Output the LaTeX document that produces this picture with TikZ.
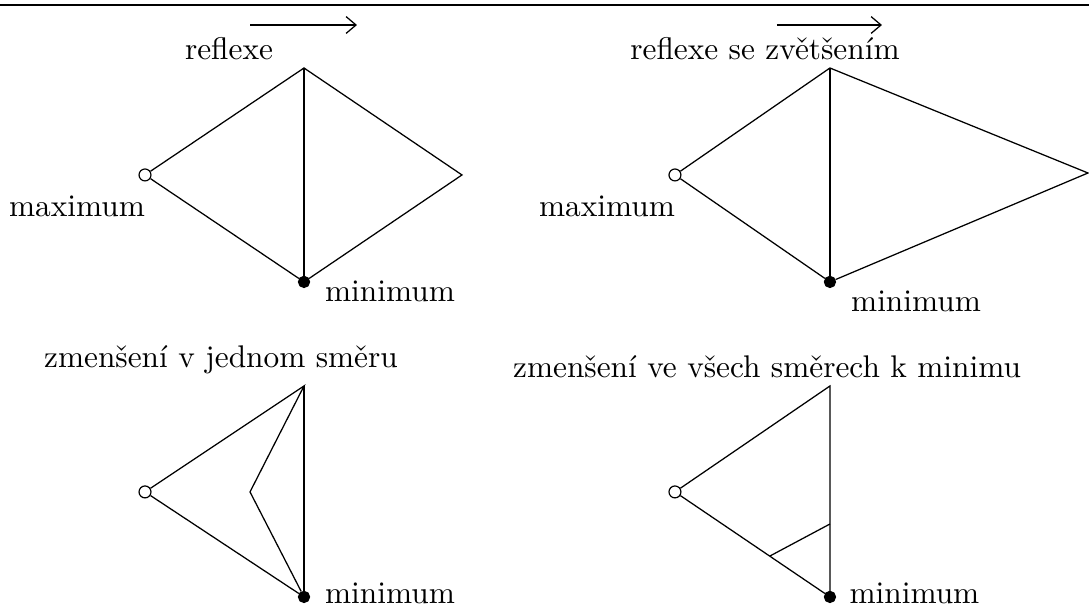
\documentclass[tikz,border=0pt]{standalone}
\usepackage{tikz}
\usetikzlibrary{arrows.meta}

\begin{document}
\begin{tikzpicture}[x=1cm,y=1cm,>={Straight Barb[length=3.3pt,width=5.6pt]},font=\fontsize{10.45pt}{12.5pt}\selectfont,
 maxpt/.style={circle,draw,fill=white,inner sep=0pt,minimum size=1.4mm},
 minpt/.style={circle,draw,fill=black,inner sep=0pt,minimum size=1.3mm},
 lbl/.style={anchor=base,inner sep=0pt},edge/.style={line width=.42pt}]
\path[use as bounding box] (0,0) rectangle (12.767,7.139);
\draw[line width=.7pt] (0,7.081)--(12.767,7.081);
% reflexe
\node[lbl] (t1lbl) at (2.685,6.436) {reflexe};
\coordinate (s1) at (2.931,6.846);\coordinate (e1) at (4.185,6.846);
\draw[->,edge] (s1)--(e1);
\coordinate (t1) at (3.564,6.342);\coordinate (r1) at (5.416,5.088);
\node[maxpt] (a1) at (1.700,5.088) {};
\node[minpt] (b1) at (3.564,3.834) {};
\draw[edge] (a1)--(t1)--(r1)--(b1)--(a1);\draw[edge] (t1)--(b1);
\node[lbl] (max1) at (0.903,4.596) {maximum};
\node[lbl] (min1) at (4.572,3.599) {minimum};
% reflexe se zvetsenim
\node[lbl] (t2lbl) at (8.968,6.436) {reflexe se zvětšením};
\coordinate (s2) at (9.109,6.846);\coordinate (e2) at (10.340,6.846);
\draw[->,edge] (s2)--(e2);
\coordinate (t2) at (9.730,6.342);\coordinate (r2) at (12.755,5.111);
\node[maxpt] (a2) at (7.913,5.088) {};
\node[minpt] (b2) at (9.730,3.834) {};
\draw[edge] (a2)--(t2)--(r2)--(b2)--(a2);\draw[edge] (t2)--(b2);
\node[lbl] (max2) at (7.116,4.596) {maximum};
\node[lbl] (min2) at (10.739,3.482) {minimum};
% zmenseni v jednom smeru
\node[lbl] (t3lbl) at (2.591,2.825) {zmenšení v jednom směru};
\coordinate (t3) at (3.564,2.614);\coordinate (c3) at (2.931,1.372);
\node[maxpt] (a3) at (1.700,1.372) {};
\node[minpt] (b3) at (3.564,0.141) {};
\draw[edge] (a3)--(t3)--(c3)--(b3)--(a3);\draw[edge] (t3)--(b3);
\node[lbl] (min3) at (4.572,0.059) {minimum};
% zmenseni ve vsech smerech
\node[lbl] (t4lbl) at (8.992,2.708) {zmenšení ve všech směrech k minimu};
\coordinate (t4) at (9.730,2.614);\coordinate (p4) at (9.730,0.996);\coordinate (q4) at (9.027,0.621);
\node[maxpt] (a4) at (7.913,1.372) {};
\node[minpt] (b4) at (9.730,0.141) {};
\draw[edge] (a4)--(t4)--(b4)--(a4);\draw[edge] (p4)--(q4);
\node[lbl] (min4) at (10.72,0.059) {minimum};
\end{tikzpicture}
\end{document}
